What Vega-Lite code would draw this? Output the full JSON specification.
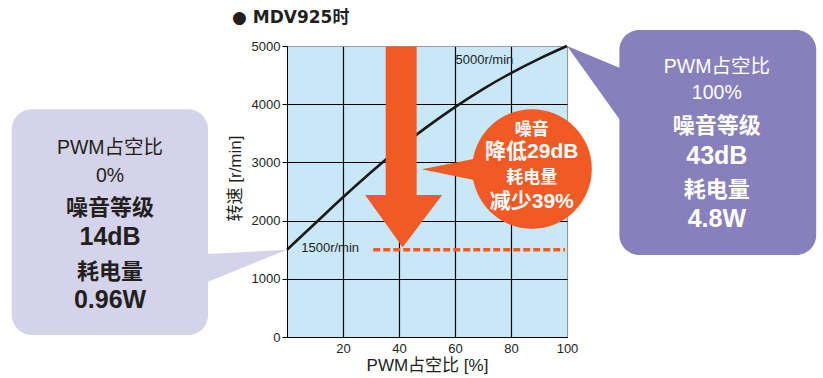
{
  "$schema": "https://vega.github.io/schema/vega-lite/v6.json",
  "width": 280,
  "height": 291,
  "autosize": {"type": "none"},
  "padding": {"left": 287, "top": 46, "right": 256, "bottom": 41},
  "background": "white",
  "title": {"text": "● MDV925时", "anchor": "start", "frame": "group", "dx": -55, "offset": 3, "font": "DejaVu Sans, Noto Sans CJK SC", "fontSize": 17, "fontWeight": "bold", "color": "#231f20"},
  "config": {
    "font": "Liberation Sans, Noto Sans CJK SC, sans-serif",
    "view": {"stroke": "#9a9a9a", "fill": "#c8e8f8"},
    "axis": {"labelFont": "Liberation Sans", "titleFont": "Liberation Sans, Noto Sans CJK SC", "labelColor": "#231f20", "titleColor": "#231f20", "domainColor": "#000", "tickColor": "#000", "titleFontWeight": "normal", "labelFlush": false, "labelOverlap": false}
  },
  "datasets": {
    "curve": [
      {"x": 0, "y": 1500}, {"x": 10, "y": 1950}, {"x": 20, "y": 2400}, {"x": 30, "y": 2830},
      {"x": 40, "y": 3240}, {"x": 50, "y": 3610}, {"x": 60, "y": 3950}, {"x": 70, "y": 4260},
      {"x": 80, "y": 4535}, {"x": 90, "y": 4780}, {"x": 100, "y": 5000}
    ],
    "dash": [{"x": 30.8, "x2": 99.3, "y": 1500}],
    "shaft": [{"x": 35.25, "x2": 46.3, "y": 4990, "y2": 2440}],
    "head": [{"x": 27.9, "y": 2440, "y2": 2440}, {"x": 41.3, "y": 2440, "y2": 1540}, {"x": 55.4, "y": 2440, "y2": 2440}],
    "cpointer": [{"x": 48.1, "y": 2881, "y2": 2881}, {"x": 72, "y": 3111, "y2": 2644}],
    "circle": [{"x": 87.5, "y": 2887}],
    "lbox": [{"x": -98.3, "x2": -28.2, "y": 3912, "y2": 34}],
    "lpointer": [{"x": -35, "y": 1409, "y2": 817}, {"x": 0, "y": 1500, "y2": 1500}],
    "rbox": [{"x": 118.7, "x2": 189, "y": 5275, "y2": 1409}],
    "rpointer": [{"x": 100, "y": 5000, "y2": 5000}, {"x": 125, "y": 4500, "y2": 3320}],
    "notes": [
      {"t": "PWM占空比", "x": -63.2, "y": 3247, "g": "lnorm"},
      {"t": "0%", "x": -63.2, "y": 2766, "g": "lnorm"},
      {"t": "噪音等级", "x": -63.2, "y": 2216, "g": "lhead"},
      {"t": "14dB", "x": -63.2, "y": 1723, "g": "lval"},
      {"t": "耗电量", "x": -63.2, "y": 1122, "g": "lhead"},
      {"t": "0.96W", "x": -63.2, "y": 636, "g": "lval"},
      {"t": "PWM占空比", "x": 153.5, "y": 4644, "g": "rnorm"},
      {"t": "100%", "x": 153.5, "y": 4198, "g": "rnorm"},
      {"t": "噪音等级", "x": 153.5, "y": 3625, "g": "rhead"},
      {"t": "43dB", "x": 153.5, "y": 3110, "g": "rval"},
      {"t": "耗电量", "x": 153.5, "y": 2526, "g": "rhead"},
      {"t": "4.8W", "x": 153.5, "y": 2027, "g": "rval"},
      {"t": "噪音", "x": 87.4, "y": 3550, "g": "chead"},
      {"t": "降低29dB", "x": 87.4, "y": 3175, "g": "cval"},
      {"t": "耗电量", "x": 87.4, "y": 2732, "g": "chead"},
      {"t": "减少39%", "x": 87.4, "y": 2325, "g": "cval"},
      {"t": "5000r/min", "x": 70.5, "y": 4760, "g": "plain"},
      {"t": "1500r/min", "x": 15.4, "y": 1530, "g": "plain"}
    ]
  },
  "encoding": {
    "x": {"field": "x", "type": "quantitative", "scale": {"domain": [0, 100], "nice": false, "zero": false},
      "axis": {"values": [20, 40, 60, 80, 100], "title": "PWM占空比 [%]", "grid": true,
        "gridColor": {"condition": {"test": "datum.value === 100", "value": "#9a9a9a"}, "value": "#000"},
        "gridWidth": 1.2, "ticks": false, "labelPadding": 5, "labelFontSize": 13, "titleFontSize": 17, "titlePadding": 2}},
    "y": {"field": "y", "type": "quantitative", "scale": {"domain": [0, 5000], "nice": false, "zero": false},
      "axis": {"values": [0, 1000, 2000, 3000, 4000, 5000], "format": "d", "title": "转速 [r/min]", "grid": true,
        "gridColor": {"condition": {"test": "datum.value === 5000", "value": "#9a9a9a"}, "value": "#000"},
        "gridWidth": 1.2, "tickSize": 5, "labelPadding": 2, "labelFontSize": 13, "titleFontSize": 17,
        "titleX": -43, "titleY": 132, "titleAngle": 270, "titleAlign": "center", "titleBaseline": "bottom"}}
  },
  "layer": [
    {"data": {"name": "curve"}, "mark": {"type": "line", "color": "#1a1a1a", "strokeWidth": 2.6, "interpolate": "monotone"}},
    {"data": {"name": "dash"}, "mark": {"type": "rule", "color": "#f15a24", "strokeWidth": 3.5, "strokeDash": [7, 3]}, "encoding": {"x2": {"field": "x2"}}},
    {"data": {"name": "shaft"}, "mark": {"type": "rect", "color": "#f15a24"}, "encoding": {"x2": {"field": "x2"}, "y2": {"field": "y2"}}},
    {"data": {"name": "head"}, "mark": {"type": "area", "color": "#f15a24", "opacity": 1}, "encoding": {"y2": {"field": "y2"}}},
    {"data": {"name": "cpointer"}, "mark": {"type": "area", "color": "#f15a24", "opacity": 1}, "encoding": {"y2": {"field": "y2"}}},
    {"data": {"name": "circle"}, "mark": {"type": "point", "shape": "circle", "filled": true, "color": "#f15a24", "opacity": 1, "size": 14300, "strokeWidth": 0}},
    {"data": {"name": "lbox"}, "mark": {"type": "rect", "color": "#d5d3ea", "cornerRadius": 20}, "encoding": {"x2": {"field": "x2"}, "y2": {"field": "y2"}}},
    {"data": {"name": "lpointer"}, "mark": {"type": "area", "color": "#d5d3ea", "opacity": 1}, "encoding": {"y2": {"field": "y2"}}},
    {"data": {"name": "rbox"}, "mark": {"type": "rect", "color": "#8880bd", "cornerRadius": 20}, "encoding": {"x2": {"field": "x2"}, "y2": {"field": "y2"}}},
    {"data": {"name": "rpointer"}, "mark": {"type": "area", "color": "#8880bd", "opacity": 1}, "encoding": {"y2": {"field": "y2"}}},
    {"data": {"name": "notes"}, "transform": [{"filter": {"field": "g", "oneOf": ["lnorm", "rnorm", "plain"]}}],
      "mark": {"type": "text", "align": "center", "baseline": "middle", "fontWeight": "normal"},
      "encoding": {"text": {"field": "t"},
        "color": {"field": "g", "type": "nominal", "legend": null, "scale": {"domain": ["lnorm", "lhead", "lval", "rnorm", "rhead", "rval", "chead", "cval", "plain"], "range": ["#231f20", "#231f20", "#231f20", "#ffffff", "#ffffff", "#ffffff", "#ffffff", "#ffffff", "#231f20"]}},
        "size": {"field": "g", "type": "nominal", "legend": null, "scale": {"type": "ordinal", "domain": ["lnorm", "lhead", "lval", "rnorm", "rhead", "rval", "chead", "cval", "plain"], "range": [19.5, 22, 25, 19.5, 22, 25, 17, 21, 13]}}}},
    {"data": {"name": "notes"}, "transform": [{"filter": {"field": "g", "oneOf": ["lhead", "lval", "rhead", "rval", "chead", "cval"]}}],
      "mark": {"type": "text", "align": "center", "baseline": "middle", "fontWeight": "bold"},
      "encoding": {"text": {"field": "t"},
        "color": {"field": "g", "type": "nominal", "legend": null, "scale": {"domain": ["lnorm", "lhead", "lval", "rnorm", "rhead", "rval", "chead", "cval", "plain"], "range": ["#231f20", "#231f20", "#231f20", "#ffffff", "#ffffff", "#ffffff", "#ffffff", "#ffffff", "#231f20"]}},
        "size": {"field": "g", "type": "nominal", "legend": null, "scale": {"type": "ordinal", "domain": ["lnorm", "lhead", "lval", "rnorm", "rhead", "rval", "chead", "cval", "plain"], "range": [19.5, 22, 25, 19.5, 22, 25, 17, 21, 13]}}}}
  ]
}
